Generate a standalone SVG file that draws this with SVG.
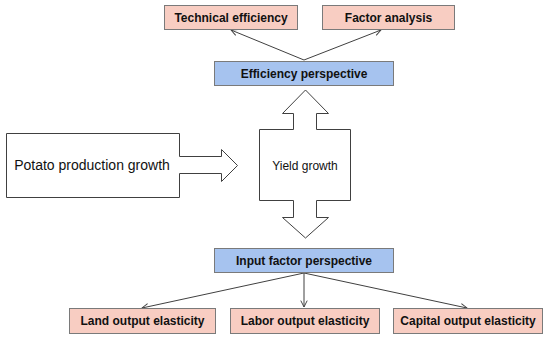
<svg xmlns="http://www.w3.org/2000/svg" width="550" height="339" viewBox="0 0 550 339">
<defs>
<style>
.pink{fill:#f8cdc2;stroke:#7a7a7a;stroke-width:1}
.blue{fill:#a6c3ef;stroke:#7a7a7a;stroke-width:1}
.outline{fill:#ffffff;stroke:#404040;stroke-width:1}
.lbl{font-family:"Liberation Sans",Arial,sans-serif;font-size:12px;font-weight:bold;fill:#111;text-anchor:middle}
.reg{font-family:"Liberation Sans",Arial,sans-serif;fill:#111;text-anchor:middle}
.conn{stroke:#404040;stroke-width:1;fill:none;marker-end:url(#ah)}
</style>
<marker id="ah" viewBox="0 0 10 10" refX="9" refY="5" markerWidth="8" markerHeight="8" markerUnits="userSpaceOnUse" orient="auto">
<path d="M1,1 L9,5 L1,9" fill="none" stroke="#404040" stroke-width="1.2"/>
</marker>
</defs>
<rect width="550" height="339" fill="#ffffff"/>
<g id="connectors">
<line class="conn" x1="304" y1="60" x2="231" y2="30"/>
<line class="conn" x1="304" y1="60" x2="381" y2="30"/>
<line class="conn" x1="304" y1="273" x2="142" y2="308"/>
<line class="conn" x1="304" y1="273" x2="304" y2="307"/>
<line class="conn" x1="304" y1="273" x2="467" y2="308"/>
</g>
<g id="technical-efficiency">
<rect class="pink" x="164.5" y="5.5" width="133" height="24"/>
<text class="lbl" x="231" y="22">Technical efficiency</text>
</g>
<g id="factor-analysis">
<rect class="pink" x="322.5" y="5.5" width="132" height="24"/>
<text class="lbl" x="388.5" y="22">Factor analysis</text>
</g>
<g id="efficiency-perspective">
<rect class="blue" x="214.5" y="61.5" width="179" height="24"/>
<text class="lbl" x="304" y="78">Efficiency perspective</text>
</g>
<g id="potato-production-growth">
<path class="outline" d="M6.5,133.5 H179.5 V156.5 H221.5 V149.5 L237.5,165.5 L221.5,181.5 V173.5 H179.5 V197.5 H6.5 Z"/>
<text class="reg" x="92" y="170" font-size="14">Potato production growth</text>
</g>
<g id="yield-growth">
<path class="outline" d="M305.5,90 L328.5,113.5 H316.5 V129.5 H350.5 V200.5 H316.5 V217.5 H328.5 L305.5,238 L282.5,217.5 H293.5 V200.5 H259.5 V129.5 H293.5 V113.5 H282.5 Z"/>
<text class="reg" x="305" y="170" font-size="12">Yield growth</text>
</g>
<g id="input-factor-perspective">
<rect class="blue" x="214.5" y="248.5" width="179" height="24"/>
<text class="lbl" x="304" y="265">Input factor perspective</text>
</g>
<g id="land-output-elasticity">
<rect class="pink" x="69.5" y="308.5" width="146" height="25"/>
<text class="lbl" x="142.5" y="325">Land output elasticity</text>
</g>
<g id="labor-output-elasticity">
<rect class="pink" x="230.5" y="308.5" width="149" height="25"/>
<text class="lbl" x="305" y="325">Labor output elasticity</text>
</g>
<g id="capital-output-elasticity">
<rect class="pink" x="393.5" y="308.5" width="149" height="25"/>
<text class="lbl" x="468" y="325">Capital output elasticity</text>
</g>
</svg>
